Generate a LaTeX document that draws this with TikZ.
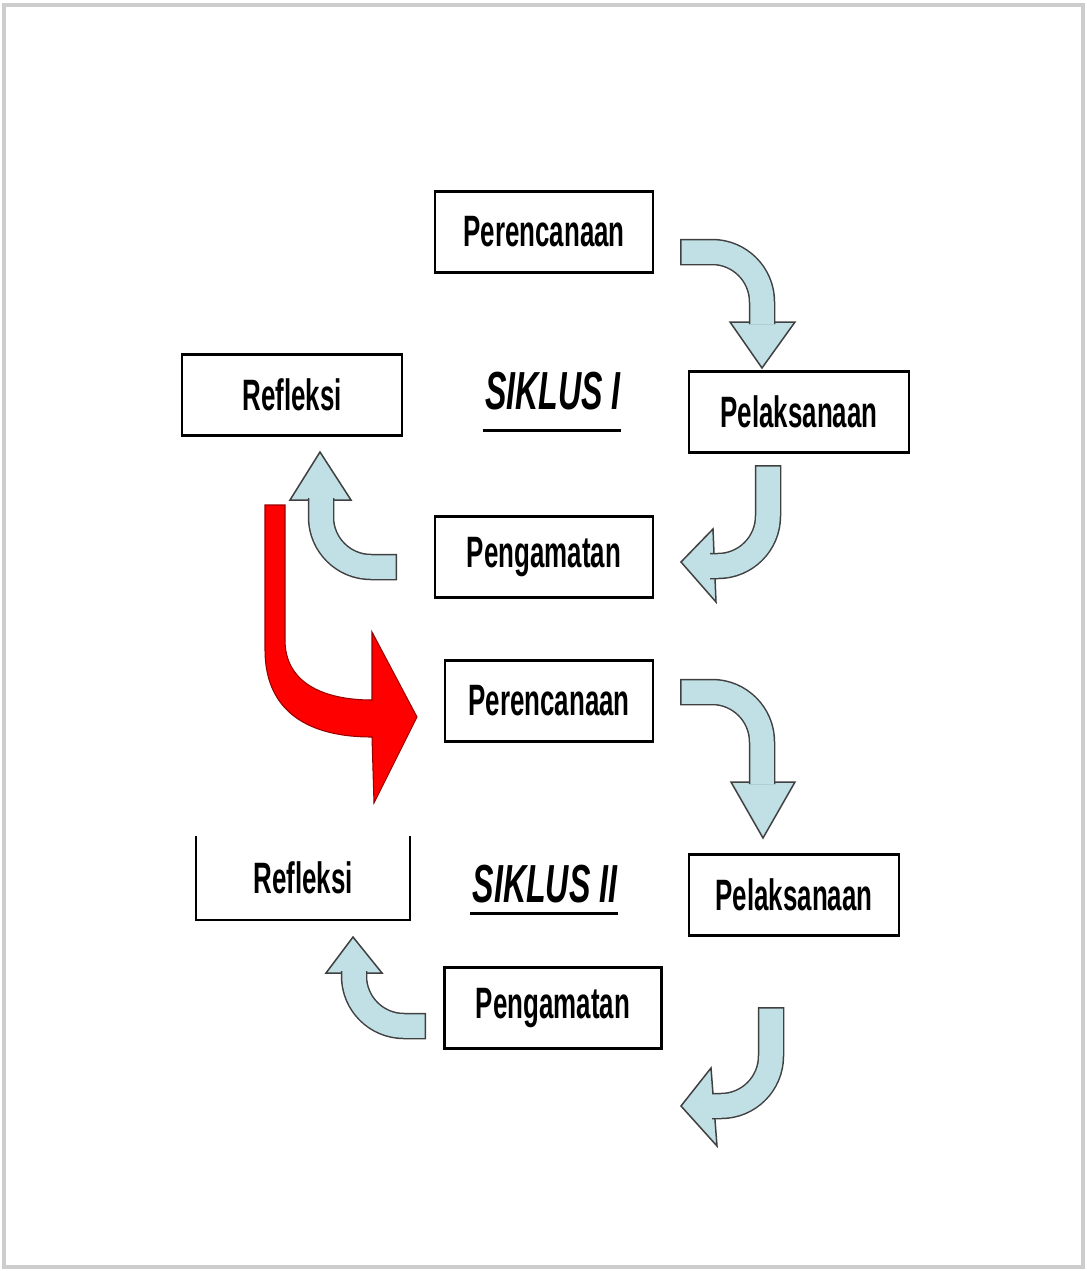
\documentclass[tikz,border=0pt]{standalone}
\usepackage{fontspec}
\usetikzlibrary{calc}

\newfontfamily\boxfont{Liberation Sans}[FakeStretch=0.59]
\newfontfamily\siklusfont{Liberation Sans}[FakeStretch=0.6]

\definecolor{arrowfill}{RGB}{192,224,229}
\definecolor{arrowline}{RGB}{64,64,64}
\definecolor{framegray}{RGB}{205,205,205}

\tikzset{
    box/.style={draw, line width=1.2pt, rectangle, minimum height=1.62cm,
        font=\boxfont\bfseries\fontsize{25}{30}\selectfont},
    siklus/.style={inner sep=0pt, font=\siklusfont\bfseries\itshape\fontsize{30.5}{36}\selectfont},
    bhead/.style={fill=arrowfill, draw=arrowline, line width=0.03cm, line join=miter},
    bshaft/.style={draw=arrowfill, line width=0.47cm, rounded corners=1.0cm, shorten <=0.03cm,
        preaction={draw=arrowline, line width=0.53cm, shorten <=0pt}},
    redarrow/.style={fill=red, draw=red!60!black, line width=0.6pt, line join=miter},
}

\begin{document}
\begin{tikzpicture}[x=0.02cm, y=-0.02cm]
    \useasboundingbox (0,0) rectangle (1086,1271);
    % Frame
    \draw[framegray, line width=2pt] (4,5) rectangle (1083,1267);

    % Siklus I
    \node[box, minimum width=4.36cm] (per1) at (544,232) {Perencanaan};
    \node[box, minimum width=4.4cm] (pel1) at (799,412) {Pelaksanaan};
    \node[box, minimum width=4.36cm] (pen1) at (544,557) {Pengamatan};
    \node[box, minimum width=4.4cm] (ref1) at (292,395) {Refleksi};
    \node[siklus] (sik1) at (553,391) {SIKLUS I};
    \draw[line width=1.7pt] ($(sik1.south west)+(-2,20)$) -- ($(sik1.south east)+(0,20)$);

    % Siklus II
    \node[box, minimum width=4.16cm] (per2) at (549,701) {Perencanaan};
    \node[box, minimum width=4.2cm] (pel2) at (794,895) {Pelaksanaan};
    \node[box, minimum width=4.34cm] (pen2) at (553,1008) {Pengamatan};
    \node[box, draw=none, minimum width=4.24cm] (ref2) at (303,878) {Refleksi};
    \draw[line width=1.2pt] (ref2.north west) -- (ref2.south west) -- (ref2.south east) -- (ref2.north east);
    \node[siklus] (sik2) at (545,884) {SIKLUS II};
    \draw[line width=1.7pt] ($(sik2.south west)+(-2,10)$) -- ($(sik2.south east)+(0,10)$);

    % Arrow ends
    \coordinate (a1s) at (680,252);  \coordinate (a1e) at (762,324);
    \coordinate (a2s) at (768,465);  \coordinate (a2e) at (710,566);
    \coordinate (a3s) at (397,567);  \coordinate (a3e) at (321,498);
    \coordinate (a4s) at (680,692);  \coordinate (a4e) at (762,784);
    \coordinate (a5s) at (771,1007); \coordinate (a5e) at (712,1106);
    \coordinate (a6s) at (426,1026); \coordinate (a6e) at (354,971);

    % Block arrows, cycle I
    \filldraw[bhead] (730,322) -- (795,322) -- (762,368) -- cycle;
    \draw[bshaft] (a1s) -| (a1e);
    \filldraw[bhead] (713,529) -- (716,602) -- (681,562) -- cycle;
    \draw[bshaft] (a2s) |- (a2e);
    \filldraw[bhead] (290,500) -- (351,500) -- (320,452) -- cycle;
    \draw[bshaft] (a3s) -| (a3e);

    % Red arrow into cycle II
    \filldraw[redarrow] (265,505) -- (265,650) .. controls (265,705) and (300,737) .. (372,737)
        -- (374,803) -- (417,717) -- (372,632) -- (372,700)
        .. controls (322,700) and (285,682) .. (285,640) -- (285,505) -- cycle;

    % Block arrows, cycle II
    \filldraw[bhead] (731,782) -- (795,782) -- (763,838) -- cycle;
    \draw[bshaft] (a4s) -| (a4e);
    \filldraw[bhead] (711,1068) -- (717,1146) -- (681,1106) -- cycle;
    \draw[bshaft] (a5s) |- (a5e);
    \filldraw[bhead] (326,973) -- (382,973) -- (353,937) -- cycle;
    \draw[bshaft] (a6s) -| (a6e);
\end{tikzpicture}
\end{document}
